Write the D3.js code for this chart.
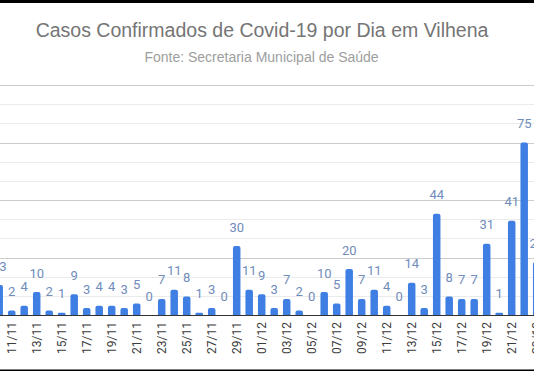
<!DOCTYPE html>
<html>
<head>
<meta charset="utf-8">
<script src="https://cdn.jsdelivr.net/npm/d3@7"></script>
<style>
  body { margin: 0; background: #fff; }
  svg { display: block; }
</style>
</head>
<body>
<script>
// Data (daily confirmed cases, 10/11 to 23/12)
var days = ["10/11","11/11","12/11","13/11","14/11","15/11","16/11","17/11","18/11","19/11",
  "20/11","21/11","22/11","23/11","24/11","25/11","26/11","27/11","28/11","29/11",
  "30/11","01/12","02/12","03/12","04/12","05/12","06/12","07/12","08/12","09/12",
  "10/12","11/12","12/12","13/12","14/12","15/12","16/12","17/12","18/12","19/12",
  "20/12","21/12","22/12","23/12"];
var cases = [13, 2, 4, 10, 2, 1, 9, 3, 4, 4,
  3, 5, 0, 7, 11, 8, 1, 3, 0, 30,
  11, 9, 3, 7, 2, 0, 10, 5, 20, 7,
  11, 4, 0, 14, 3, 44, 8, 7, 7, 31,
  1, 41, 75, 23];
// every other day gets a tick label
var tickDays = days.filter((d, i) => i % 2 == 1);

var titleText = "Casos Confirmados de Covid-19 por Dia em Vilhena";
var subtitleText = "Fonte: Secretaria Municipal de Saúde";

var svgWidth = 534;
var svgHeight = 371;

var svg = d3.select("body")
  .append("svg")
  .attr("width", svgWidth)
  .attr("height", svgHeight);

svg.append("rect")
  .attr("width", svgWidth)
  .attr("height", svgHeight)
  .attr("fill", "#fff");

// scales (the chart is cut at both sides)
var step = 12.5;
var x0 = -7.05;
var xScale = d3.scaleBand()
  .domain(days)
  .range([x0, x0 + step * days.length])
  .paddingInner(0.4)
  .paddingOuter(0.2);

var yScale = d3.scaleLinear()
  .domain([0, 100])
  .range([315, 85]);

// gridlines: major every 25, minor in between
var minor = d3.range(0, 100.01, 25 / 3);
svg.append("g")
  .selectAll("line")
  .data(minor)
  .enter()
  .append("line")
  .attr("x1", 0)
  .attr("x2", svgWidth)
  .attr("y1", d => Math.round(yScale(d)) + 0.5)
  .attr("y2", d => Math.round(yScale(d)) + 0.5)
  .attr("stroke", (d, i) => i % 3 == 0 ? "#cccccc" : "#ebebeb")
  .attr("stroke-width", 1);

// bars with slightly rounded tops
function barPath(d, i) {
  var x = xScale(days[i]);
  var w = xScale.bandwidth();
  var y = yScale(d);
  var y0 = yScale(0);
  var r = Math.min(2, (y0 - y) / 2, w / 2);
  return `M${x},${y0} L${x},${y + r} Q${x},${y} ${x + r},${y} L${x + w - r},${y} Q${x + w},${y} ${x + w},${y + r} L${x + w},${y0} Z`;
}

svg.append("g")
  .selectAll(".bar")
  .data(cases)
  .enter()
  .append("path")
  .classed("bar", true)
  .attr("d", barPath)
  .attr("fill", "#3f7fe3");

// value labels above each bar
svg.append("g")
  .selectAll(".val")
  .data(cases)
  .enter()
  .append("text")
  .classed("val", true)
  .attr("x", (d, i) => xScale(days[i]) + xScale.bandwidth() / 2)
  .attr("y", d => yScale(d) - 19)
  .attr("dy", "0.35em")
  .attr("text-anchor", "middle")
  .attr("font-family", "Roboto, Arial, sans-serif")
  .attr("font-size", 13)
  .attr("fill", "#6f8cbb")
  .text(d => d);

// baseline
svg.append("line")
  .attr("x1", 0)
  .attr("x2", svgWidth)
  .attr("y1", yScale(0) + 0.5)
  .attr("y2", yScale(0) + 0.5)
  .attr("stroke", "#333")
  .attr("stroke-width", 1);

// x axis with rotated labels
var xAxis = d3.axisBottom(xScale)
  .tickValues(tickDays)
  .tickSize(0);

var axisG = svg.append("g")
  .attr("transform", `translate(0, ${yScale(0)})`)
  .call(xAxis);

axisG.select(".domain").remove();
axisG.selectAll("text")
  .attr("font-family", "Roboto, Arial, sans-serif")
  .attr("font-size", 12)
  .attr("fill", "#3c3c3c")
  .attr("text-anchor", "end")
  .attr("transform", "rotate(-90)")
  .attr("x", -7)
  .attr("y", 0)
  .attr("dy", "0.35em");

// titles
svg.append("text")
  .attr("x", 262)
  .attr("y", 36.5)
  .attr("text-anchor", "middle")
  .attr("font-family", "'Liberation Sans', Arial, sans-serif")
  .attr("font-size", 19.5)
  .attr("fill", "#757575")
  .text(titleText);

svg.append("text")
  .attr("x", 261.5)
  .attr("y", 62)
  .attr("text-anchor", "middle")
  .attr("font-family", "'Liberation Sans', Arial, sans-serif")
  .attr("font-size", 14)
  .attr("fill", "#9e9e9e")
  .text(subtitleText);

// black edges of the screenshot
svg.append("rect")
  .attr("x", 0).attr("y", 0)
  .attr("width", svgWidth).attr("height", 3)
  .attr("fill", "#000");
svg.append("rect")
  .attr("x", 0).attr("y", 369.5)
  .attr("width", svgWidth).attr("height", 1.5)
  .attr("fill", "#000");
</script>
</body>
</html>
